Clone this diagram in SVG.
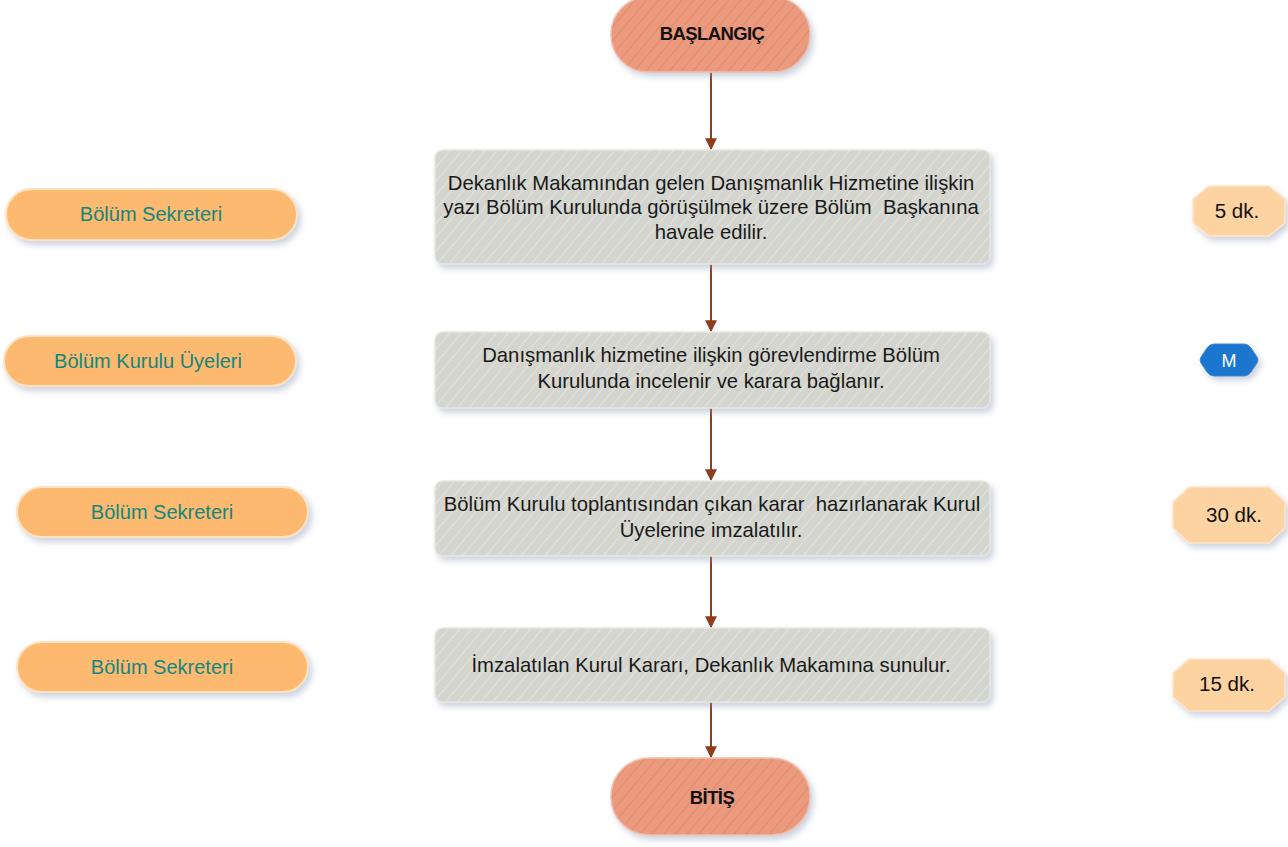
<svg xmlns="http://www.w3.org/2000/svg" width="1288" height="847" viewBox="0 0 1288 847">
<defs>
<filter id="sh" x="-20%" y="-30%" width="140%" height="170%">
<feDropShadow dx="3" dy="4" stdDeviation="3" flood-color="#8e9cb8" flood-opacity="0.45"/>
</filter>
<pattern id="gs" width="9" height="9" patternUnits="userSpaceOnUse" patternTransform="rotate(40)">
<rect width="9" height="9" fill="#d3d5ce"/>
<line x1="0" y1="0" x2="0" y2="9" stroke="#e2e3dd" stroke-width="2"/>
</pattern>
<pattern id="os" width="9" height="9" patternUnits="userSpaceOnUse" patternTransform="rotate(40)">
<rect width="9" height="9" fill="#eb9a7d"/>
<line x1="0" y1="0" x2="0" y2="9" stroke="#df8a6c" stroke-width="2"/>
</pattern>
<marker id="ah" viewBox="0 0 10 10" refX="9" refY="5" markerWidth="12" markerHeight="12" orient="auto" markerUnits="userSpaceOnUse">
<path d="M0,0 L10,5 L0,10 z" fill="#8e3c1c"/>
</marker>
</defs>
<style>
.box{fill:url(#gs);stroke:#e6e7e2;stroke-width:1.5;filter:url(#sh)}
.term{fill:url(#os);stroke:#f0c0ad;stroke-width:1.5;filter:url(#sh)}
.role{fill:#fdb96f;stroke:#fde3c4;stroke-width:2;filter:url(#sh)}
.oct{fill:#fdd3a2;stroke:#fee6cc;stroke-width:1.5;filter:url(#sh)}
.t{font-family:"Liberation Sans",Arial,sans-serif;font-size:20.3px;fill:#1a1a1a;text-anchor:middle}
.tb{font-family:"Liberation Sans",Arial,sans-serif;font-size:18.5px;font-weight:bold;fill:#111;text-anchor:middle;letter-spacing:-0.6px}
.tr{font-family:"Liberation Sans",Arial,sans-serif;font-size:20px;fill:#12877d;text-anchor:middle}
.to{font-family:"Liberation Sans",Arial,sans-serif;font-size:20.5px;fill:#111;text-anchor:middle}
.conn line{stroke:#8e3c1c;stroke-width:2;marker-end:url(#ah)}
</style>

<g class="conn" id="connectors">
<line x1="711" y1="72" x2="711" y2="149"/>
<line x1="711" y1="264" x2="711" y2="331"/>
<line x1="711" y1="408" x2="711" y2="480"/>
<line x1="711" y1="556" x2="711" y2="627"/>
<line x1="711" y1="702" x2="711" y2="757"/>
</g>

<g id="start">
<rect class="term" x="611" y="-3" width="199" height="75" rx="37"/>
<text class="tb" x="712" y="40">BAŞLANGIÇ</text>
</g>

<g id="step1">
<rect class="box" x="435" y="150" width="555" height="114" rx="8"/>
<text class="t" x="711" y="190">Dekanlık Makamından gelen Danışmanlık Hizmetine ilişkin</text>
<text class="t" x="711" y="214" xml:space="preserve">yazı Bölüm Kurulunda görüşülmek üzere Bölüm  Başkanına</text>
<text class="t" x="711" y="239">havale edilir.</text>
</g>

<g id="step2">
<rect class="box" x="435" y="332" width="555" height="76" rx="8"/>
<text class="t" x="711" y="362">Danışmanlık hizmetine ilişkin görevlendirme Bölüm</text>
<text class="t" x="711" y="388">Kurulunda incelenir ve karara bağlanır.</text>
</g>

<g id="step3">
<rect class="box" x="435" y="481" width="555" height="75" rx="8"/>
<text class="t" x="712" y="511" xml:space="preserve">Bölüm Kurulu toplantısından çıkan karar  hazırlanarak Kurul</text>
<text class="t" x="711" y="537">Üyelerine imzalatılır.</text>
</g>

<g id="step4">
<rect class="box" x="435" y="628" width="555" height="74" rx="8"/>
<text class="t" x="711" y="672">İmzalatılan Kurul Kararı, Dekanlık Makamına sunulur.</text>
</g>

<g id="end">
<rect class="term" x="611" y="758" width="199" height="77" rx="38"/>
<text class="tb" x="712" y="804">BİTİŞ</text>
</g>

<g id="role1">
<rect class="role" x="6" y="189" width="291" height="51" rx="25.5"/>
<text class="tr" x="151" y="221">Bölüm Sekreteri</text>
</g>
<g id="role2">
<rect class="role" x="4" y="336" width="292" height="50" rx="25"/>
<text class="tr" x="148" y="368">Bölüm Kurulu Üyeleri</text>
</g>
<g id="role3">
<rect class="role" x="17" y="487" width="291" height="50" rx="25"/>
<text class="tr" x="162" y="519">Bölüm Sekreteri</text>
</g>
<g id="role4">
<rect class="role" x="17" y="642" width="291" height="50" rx="25"/>
<text class="tr" x="162" y="674">Bölüm Sekreteri</text>
</g>

<g id="time1">
<polygon class="oct" points="1209,186 1269,186 1285,199 1285,223 1269,236 1209,236 1193,223 1193,199"/>
<text class="to" x="1237" y="218">5 dk.</text>
</g>
<g id="time2">
<path fill="#1c74cf" stroke="#3d8ad8" stroke-width="1" filter="url(#sh)" d="M1214,344 L1244,344 Q1248,344 1251,348 L1257,357 Q1259,360 1257,363 L1251,372 Q1248,376 1244,376 L1214,376 Q1210,376 1207,372 L1201,363 Q1199,360 1201,357 L1207,348 Q1210,344 1214,344 Z"/>
<text x="1229" y="367" font-family="Liberation Sans, Arial, sans-serif" font-size="18px" fill="#ffffff" text-anchor="middle">M</text>
</g>
<g id="time3">
<polygon class="oct" points="1189,487 1269,487 1285,502 1285,528 1269,543 1189,543 1173,528 1173,502"/>
<text class="to" x="1234" y="522">30 dk.</text>
</g>
<g id="time4">
<polygon class="oct" points="1189,659 1269,659 1285,673 1285,697 1269,711 1189,711 1173,697 1173,673"/>
<text class="to" x="1227" y="691">15 dk.</text>
</g>
</svg>
